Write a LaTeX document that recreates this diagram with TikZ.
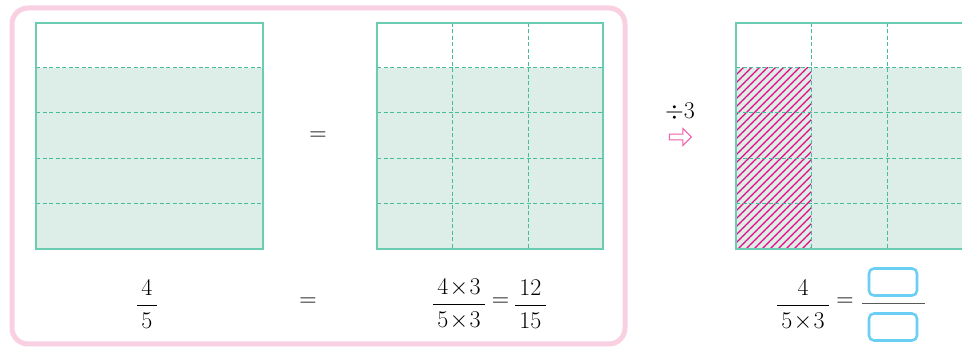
\RequirePackage{fix-cm}
\documentclass[tikz,border=0pt]{standalone}
\usepackage{amsmath}
\usepackage{tikz}
\usetikzlibrary{patterns.meta, shapes.arrows, positioning}
\usepackage{xcolor}

\definecolor{frame}{HTML}{F8D0E1}
\definecolor{cell}{HTML}{DCEEE7}
\definecolor{edge}{HTML}{6CCCB2}
\definecolor{dash}{HTML}{45BD9B}
\definecolor{hatch}{HTML}{E5007F}
\definecolor{slot}{HTML}{6BCFF5}
\definecolor{arrowpink}{HTML}{F25FAA}

\newcommand{\padfrac}[2]{\dfrac{\,#1\,}{\,#2\,}}

\begin{document}
\begin{tikzpicture}[
  x=1pt, y=-1pt,
  txt/.style={font=\fontsize{24}{28}\selectfont, inner sep=0pt},
  cellfill/.style={fill=cell},
  outline/.style={draw=edge, line width=1.2pt},
  gridline/.style={draw=dash, line width=1pt, dash pattern=on 4pt off 2.5pt},
  slotbox/.style={draw=slot, line width=2.6pt, rounded corners=5pt, minimum width=48pt, minimum height=27pt}
]
  \useasboundingbox (0,0) rectangle (962,347);
  % pink frame
  \draw[frame, line width=5pt, rounded corners=16pt] (12,8) rectangle (625,344);

  % left bar: 4/5
  \fill[cellfill] (36,68) rectangle (263,249);
  \foreach \y in {68,113,159,204}
    \draw[gridline] (36,\y) -- (263,\y);
  \draw[outline] (36,23) rectangle (263,249);

  % middle bar: 12/15
  \fill[cellfill] (377,68) rectangle (603,249);
  \foreach \y in {68,113,159,204}
    \draw[gridline] (377,\y) -- (603,\y);
  \foreach \x in {452,528}
    \draw[gridline] (\x,23) -- (\x,249);
  \draw[outline] (377,23) rectangle (603,249);

  % right bar
  \fill[cellfill] (736,68) rectangle (963,249);
  \fill[pattern={Lines[angle=45, distance=5.657pt, line width=1.1pt]}, pattern color=hatch]
    (736,68) rectangle (811,249);
  \foreach \y in {68,113,159,204}
    \draw[gridline] (736,\y) -- (963,\y);
  \foreach \x in {811,887}
    \draw[gridline] (\x,23) -- (\x,249);
  \draw[outline] (963,23) -- (736,23) -- (736,249) -- (963,249);

  % texts
  \node[txt] (eqtop) at (318,136) {$=$};
  \node[txt] (fleft) at (147,304) {$\padfrac{4}{5}$};
  \node[txt] (eqlow) at (308,302) {$=$};
  \node[txt] (fmida) at (459,304) {$\padfrac{4\!\times\!3}{5\!\times\!3}$};
  \node[txt] (eqmid) at (500.5,302) {$=$};
  \node[txt] (fmidb) at (530.5,304) {$\padfrac{12}{15}$};
  \node[txt] (div) at (680,112) {$\div3$};
  \node[single arrow, draw=arrowpink, fill=white, line width=1pt,
        minimum height=22pt, minimum width=17pt, single arrow head extend=4pt,
        inner sep=1.5pt] (arr) at (679,137) {};

  % right equation with empty slots
  \node[txt] (fright) at (803,305) {$\padfrac{4}{5\!\times\!3}$};
  \node[txt] (eqright) at (845,302) {$=$};
  \coordinate (barl) at (862,304);
  \coordinate (barr) at (925,304);
  \draw[gray!70!black, line width=1pt] (barl) -- (barr);
  \node[slotbox] (num) at (893,282) {};
  \node[slotbox] (den) at (893,327) {};
\end{tikzpicture}
\end{document}
